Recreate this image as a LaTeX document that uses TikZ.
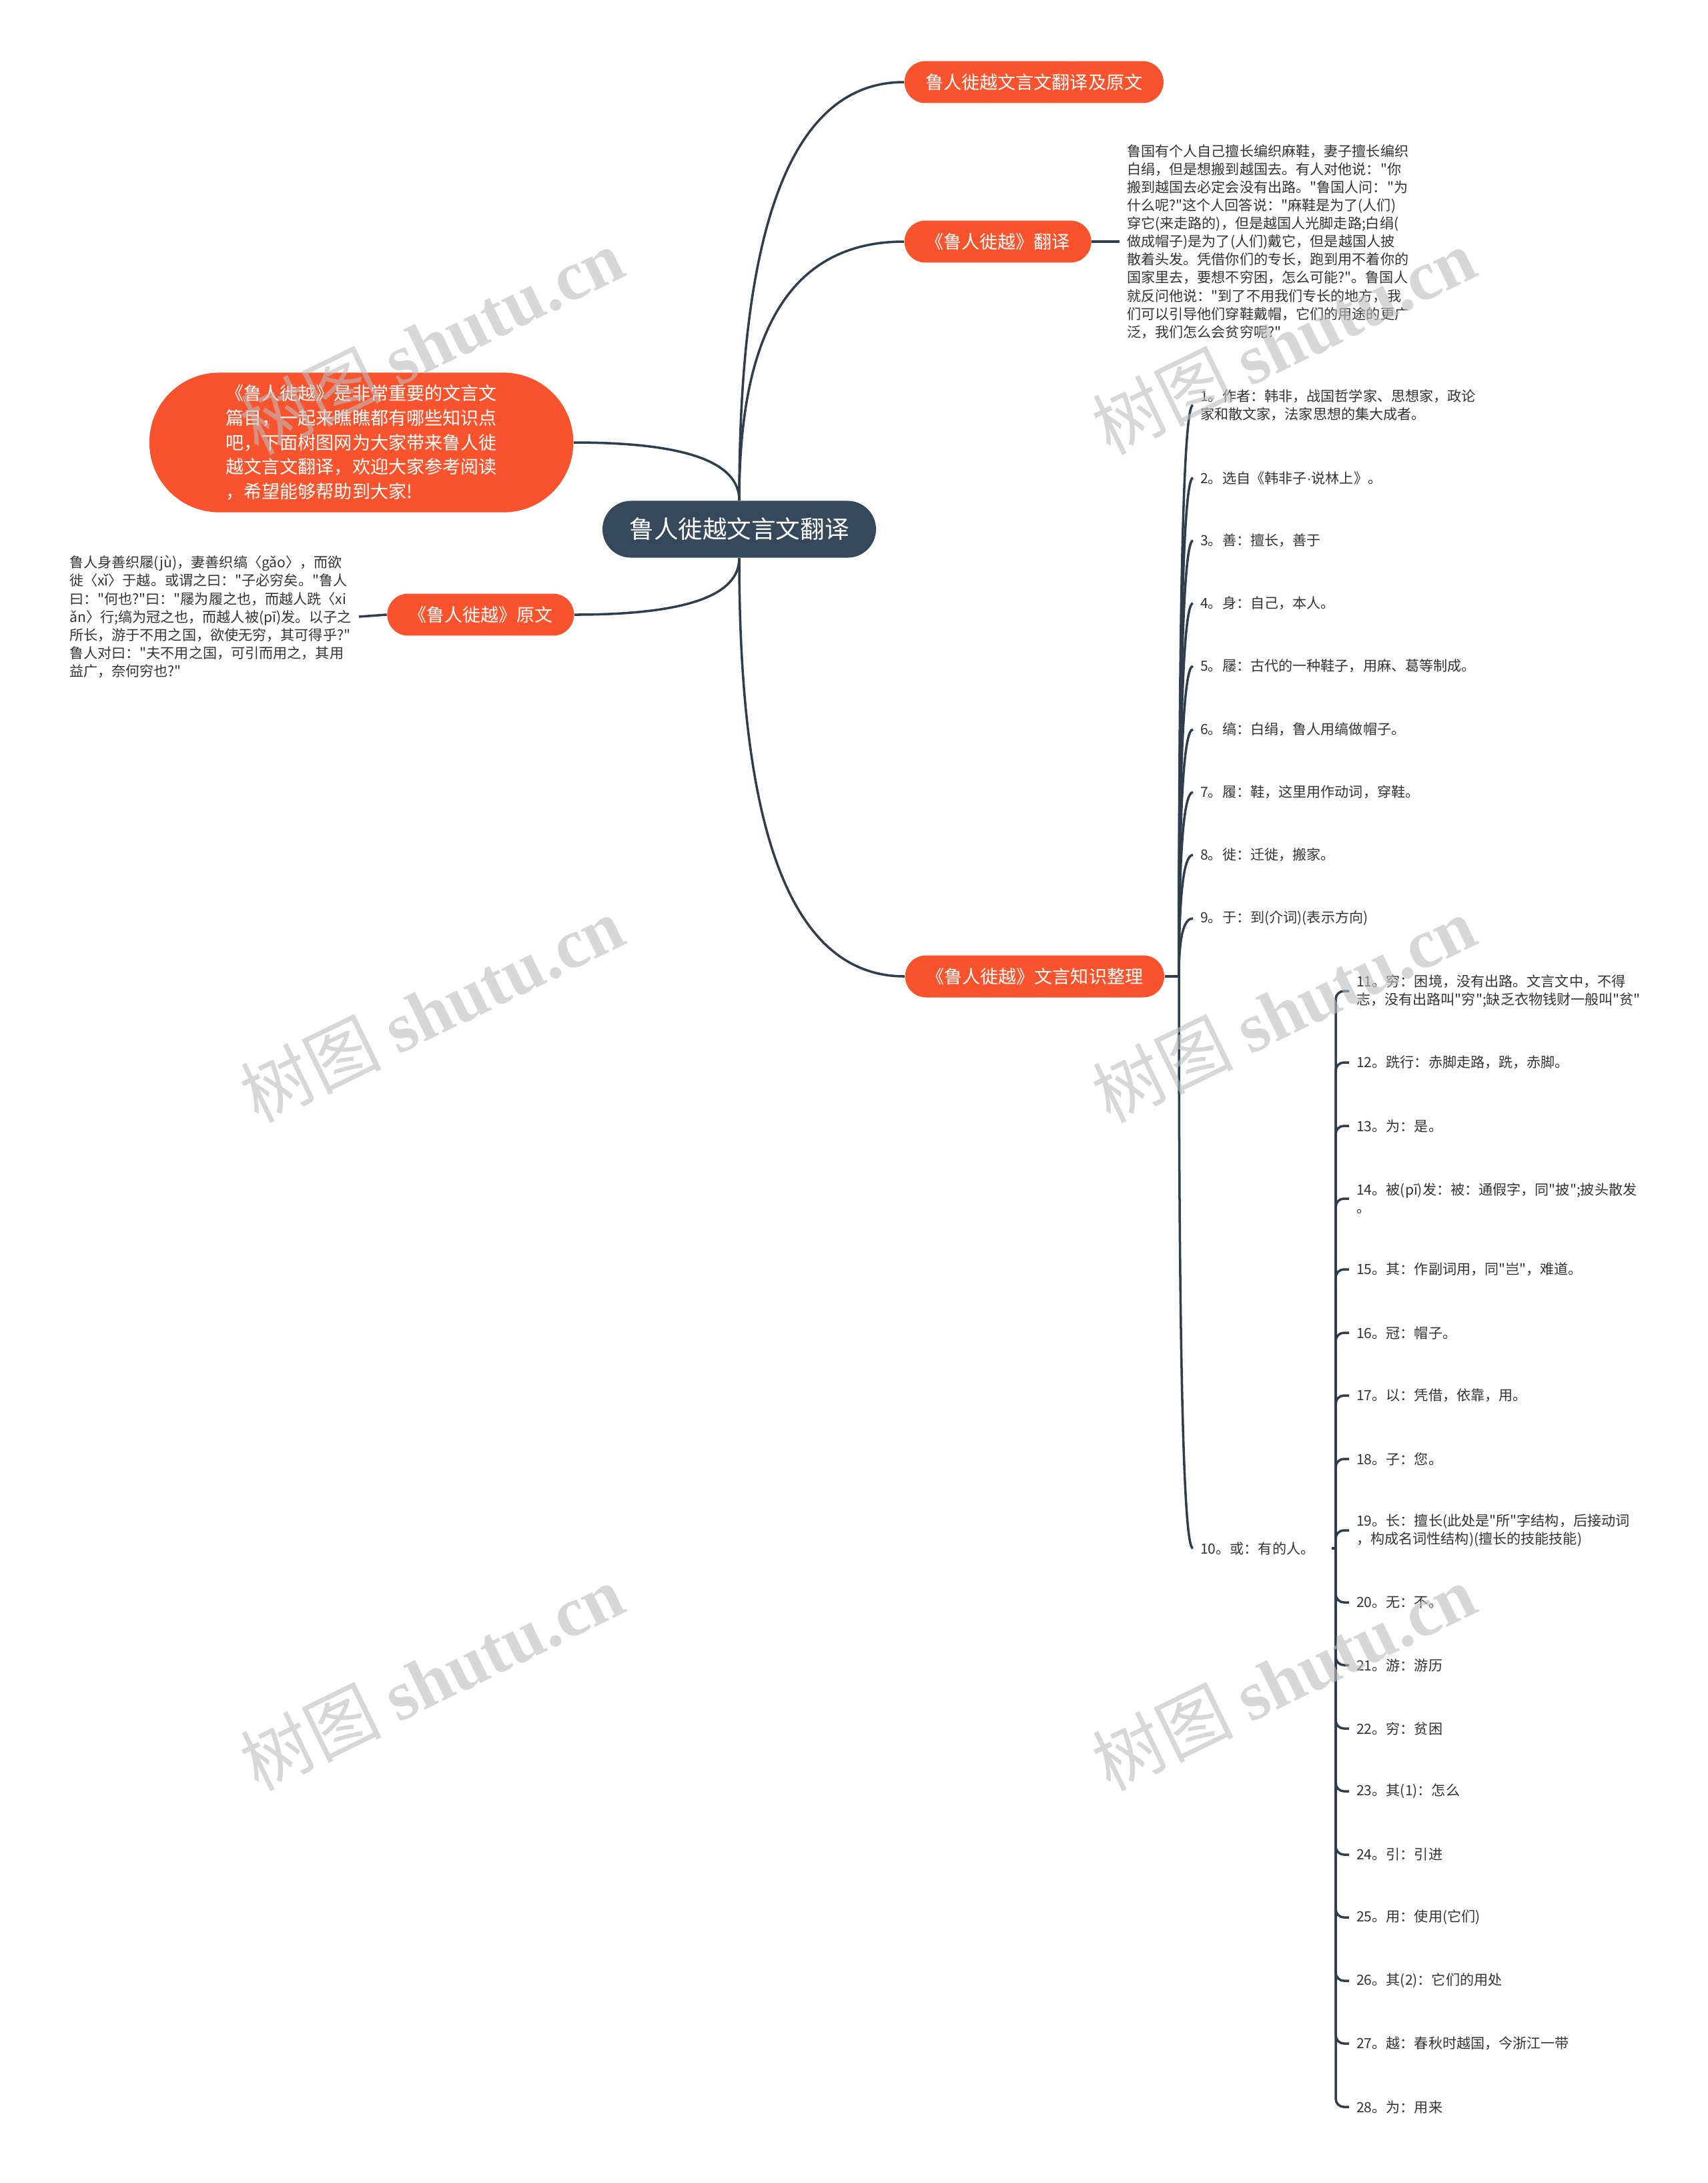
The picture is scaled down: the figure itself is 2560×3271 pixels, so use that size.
\documentclass[tikz,border=0pt]{standalone}
\usepackage{fontspec}
\setmainfont{Noto Sans CJK SC}[Ligatures=TeXOff]
\newfontfamily\markfont{Liberation Serif}
\newfontfamily\dotfont{Liberation Sans}
\usetikzlibrary{calc}
\definecolor{mapRoot}{HTML}{35495A}
\definecolor{mapBranch}{HTML}{F9532D}
\definecolor{mapLine}{HTML}{2E3E4E}
\definecolor{mapText}{HTML}{333333}
\definecolor{mapMark}{HTML}{BDBDBD}

\begin{document}
\begin{tikzpicture}[
    x=0.01cm,y=-0.01cm,
    every node/.style={inner sep=0pt},
    root/.style={fill=mapRoot,text=white,font=\fontsize{10.4pt}{12pt}\selectfont,minimum height=24.2pt,rounded corners=12.1pt,inner xsep=11.5pt},
    branch/.style={fill=mapBranch,text=white,font=\fontsize{7.7pt}{9pt}\selectfont,minimum height=17.9pt,rounded corners=8.9pt,inner xsep=9pt},
    intro/.style={fill=mapBranch,text=white,font=\fontsize{7.7pt}{10.4pt}\selectfont,align=left,minimum height=59.5pt,minimum width=180.7pt,rounded corners=29.7pt},
    note/.style={text=mapText,font=\fontsize{6pt}{7.7pt}\selectfont,align=left,inner xsep=3pt},
    item/.style={anchor=west,text=mapText,font=\fontsize{6pt}{7.7pt}\selectfont,align=left,inner xsep=3pt},
    link/.style={draw=mapLine,line width=1pt},
    elbow/.style={to path={.. controls ($(\tikztostart)!0.67!(\tikztostart |- \tikztotarget)$) and ($(\tikztotarget)!0.67!(\tikztostart |- \tikztotarget)$) .. (\tikztotarget)}},
    watermark/.style={rotate=26,text=mapMark,opacity=0.6,font=\fontsize{30pt}{30pt}\selectfont}
]
\useasboundingbox (0,0) rectangle (2560,3271);
\fill[white] (0,0) rectangle (2560,3271);

\node[root] (root) at (1108,793) {鲁人徙越文言文翻译};
\node[branch,anchor=west] (title) at (1355,123) {鲁人徙越文言文翻译及原文};
\node[branch,anchor=west] (trans) at (1355,362) {《鲁人徙越》翻译};
\node[intro,anchor=east] (intro) at (860,663) {《鲁人徙越》是非常重要的文言文\\篇目，一起来瞧瞧都有哪些知识点\\吧，下面树图网为大家带来鲁人徙\\越文言文翻译，欢迎大家参考阅读\\，希望能够帮助到大家!};
\node[branch,anchor=east] (orig) at (861,921) {《鲁人徙越》原文};
\node[branch,anchor=west] (notes) at (1356,1463) {《鲁人徙越》文言知识整理};

\node[note,anchor=west] (transtext) at (1678,362) {鲁国有个人自己擅长编织麻鞋，妻子擅长编织\\白绢，但是想搬到越国去。有人对他说："你\\搬到越国去必定会没有出路。"鲁国人问："为\\什么呢?"这个人回答说："麻鞋是为了(人们)\\穿它(来走路的)，但是越国人光脚走路;白绢(\\做成帽子)是为了(人们)戴它，但是越国人披\\散着头发。凭借你们的专长，跑到用不着你的\\国家里去，要想不穷困，怎么可能?"。鲁国人\\就反问他说："到了不用我们专长的地方，我\\们可以引导他们穿鞋戴帽，它们的用途的更广\\泛，我们怎么会贫穷呢?"};
\node[note,anchor=east] (origtext) at (538,924) {鲁人身善织屦(jù)，妻善织缟〈gǎo〉，而欲\\徙〈xǐ〉于越。或谓之曰："子必穷矣。"鲁人\\曰："何也?"曰："屦为履之也，而越人跣〈xi\\ǎn〉行;缟为冠之也，而越人被(pī)发。以子之\\所长，游于不用之国，欲使无穷，其可得乎?"\\鲁人对曰："夫不用之国，可引而用之，其用\\益广，奈何穷也?"};

\coordinate (nj) at (1767,1463);
\node[item] (n1) at (1788,607) {1。作者：韩非，战国哲学家、思想家，政论\\家和散文家，法家思想的集大成者。};
\node[item] (n2) at (1788,716) {2。选自《韩非子{\dotfont ·}说林上》。};
\node[item] (n3) at (1788,810) {3。善：擅长，善于};
\node[item] (n4) at (1788,904) {4。身：自己，本人。};
\node[item] (n5) at (1788,998) {5。屦：古代的一种鞋子，用麻、葛等制成。};
\node[item] (n6) at (1788,1093) {6。缟：白绢，鲁人用缟做帽子。};
\node[item] (n7) at (1788,1187) {7。履：鞋，这里用作动词，穿鞋。};
\node[item] (n8) at (1788,1281) {8。徙：迁徙，搬家。};
\node[item] (n9) at (1788,1376) {9。于：到(介词)(表示方向)};
\node[item] (n10) at (1788,2320) {10。或：有的人。};

\coordinate (sj) at (2002,2320);
\node[item] (n11) at (2022,1485) {11。穷：困境，没有出路。文言文中，不得\\志，没有出路叫"穷";缺乏衣物钱财一般叫"贫"};
\node[item] (n12) at (2022,1592) {12。跣行：赤脚走路，跣，赤脚。};
\node[item] (n13) at (2022,1687) {13。为：是。};
\node[item] (n14) at (2022,1796) {14。被(pī)发：被：通假字，同"披";披头散发\\。};
\node[item] (n15) at (2022,1902) {15。其：作副词用，同"岂"，难道。};
\node[item] (n16) at (2022,1997) {16。冠：帽子。};
\node[item] (n17) at (2022,2091) {17。以：凭借，依靠，用。};
\node[item] (n18) at (2022,2186) {18。子：您。};
\node[item] (n19) at (2022,2293) {19。长：擅长(此处是"所"字结构，后接动词\\，构成名词性结构)(擅长的技能技能)};
\node[item] (n20) at (2022,2401) {20。无：不。};
\node[item] (n21) at (2022,2495) {21。游：游历};
\node[item] (n22) at (2022,2590) {22。穷：贫困};
\node[item] (n23) at (2022,2684) {23。其(1)：怎么};
\node[item] (n24) at (2022,2779) {24。引：引进};
\node[item] (n25) at (2022,2873) {25。用：使用(它们)};
\node[item] (n26) at (2022,2968) {26。其(2)：它们的用处};
\node[item] (n27) at (2022,3062) {27。越：春秋时越国，今浙江一带};
\node[item] (n28) at (2022,3157) {28。为：用来};

\draw[link] (root.north) to[elbow] (title.west);
\draw[link] (root.north) to[elbow] (trans.west);
\draw[link] (root.north) to[elbow] (intro.east);
\draw[link] (root.south) to[elbow] (orig.east);
\draw[link] (root.south) to[elbow] (notes.west);
\draw[link] (trans.east) -- (transtext.west);
\draw[link] (orig.west) -- (origtext.east);
\draw[link] (notes.east) -- (nj);

\draw[link] (nj) to[elbow] (n1.west);
\draw[link] (nj) to[elbow] (n2.west);
\draw[link] (nj) to[elbow] (n3.west);
\draw[link] (nj) to[elbow] (n4.west);
\draw[link] (nj) to[elbow] (n5.west);
\draw[link] (nj) to[elbow] (n6.west);
\draw[link] (nj) to[elbow] (n7.west);
\draw[link] (nj) to[elbow] (n8.west);
\draw[link] (nj) to[elbow] (n9.west);
\draw[link] (nj) to[elbow] (n10.west);

\draw[link] ([xshift=4pt]n10.east) -- (sj);
\draw[link,rounded corners=3.5pt] (sj) |- (n11.west);
\draw[link,rounded corners=3.5pt] (sj) |- (n12.west);
\draw[link,rounded corners=3.5pt] (sj) |- (n13.west);
\draw[link,rounded corners=3.5pt] (sj) |- (n14.west);
\draw[link,rounded corners=3.5pt] (sj) |- (n15.west);
\draw[link,rounded corners=3.5pt] (sj) |- (n16.west);
\draw[link,rounded corners=3.5pt] (sj) |- (n17.west);
\draw[link,rounded corners=3.5pt] (sj) |- (n18.west);
\draw[link,rounded corners=3.5pt] (sj) |- (n19.west);
\draw[link,rounded corners=3.5pt] (sj) |- (n20.west);
\draw[link,rounded corners=3.5pt] (sj) |- (n21.west);
\draw[link,rounded corners=3.5pt] (sj) |- (n22.west);
\draw[link,rounded corners=3.5pt] (sj) |- (n23.west);
\draw[link,rounded corners=3.5pt] (sj) |- (n24.west);
\draw[link,rounded corners=3.5pt] (sj) |- (n25.west);
\draw[link,rounded corners=3.5pt] (sj) |- (n26.west);
\draw[link,rounded corners=3.5pt] (sj) |- (n27.west);
\draw[link,rounded corners=3.5pt] (sj) |- (n28.west);

\node[watermark] (wm1) at (647,511) {树图 {\markfont\bfseries shutu.cn}};
\node[watermark] (wm2) at (1924,511) {树图 {\markfont\bfseries shutu.cn}};
\node[watermark] (wm3) at (647,1512) {树图 {\markfont\bfseries shutu.cn}};
\node[watermark] (wm4) at (1924,1512) {树图 {\markfont\bfseries shutu.cn}};
\node[watermark] (wm5) at (647,2513) {树图 {\markfont\bfseries shutu.cn}};
\node[watermark] (wm6) at (1924,2513) {树图 {\markfont\bfseries shutu.cn}};
\end{tikzpicture}
\end{document}
